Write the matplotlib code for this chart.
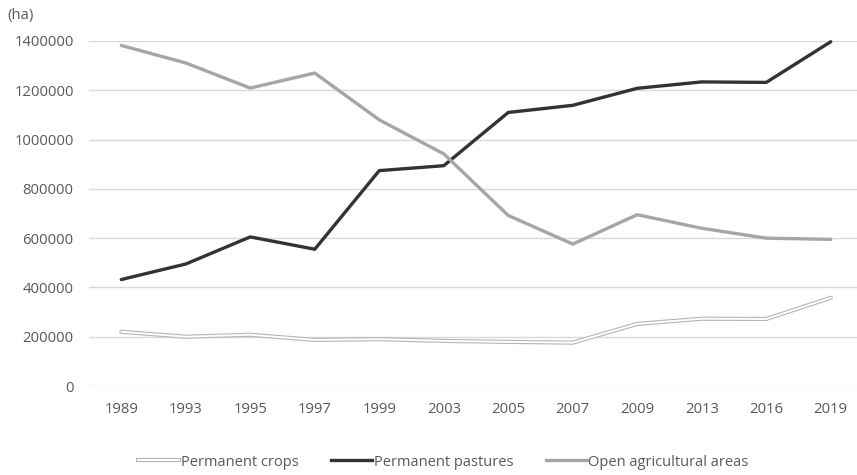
import matplotlib
matplotlib.use("Agg")
import matplotlib.pyplot as plt
from matplotlib.lines import Line2D
import matplotlib.patheffects as pe

years = ["1989", "1993", "1995", "1997", "1999", "2003", "2005", "2007", "2009", "2013", "2016", "2019"]
permanent_crops = [220000, 200000, 208000, 187000, 190000, 183000, 179000, 176000, 252000, 273000, 272000, 358000]
permanent_pastures = [432000, 495000, 605000, 555000, 874000, 894000, 1110000, 1139000, 1208000, 1234000, 1232000, 1397000]
open_agricultural = [1382000, 1311000, 1209000, 1270000, 1080000, 942000, 692000, 576000, 695000, 640000, 600000, 595000]
yticks = [0, 200000, 400000, 600000, 800000, 1000000, 1200000, 1400000]

plt.rcParams['font.family'] = ['Open Sans', 'DejaVu Sans']
FS = 10.7
TXT = '#595959'
fig = plt.figure(figsize=(8.57, 4.75), dpi=100)
ax = fig.add_axes([89/857, 1-386/475, 774/857, (386-41)/475])

x = list(range(len(years)))
c_crop_edge = '#b5b5b5'
ax.plot(x, permanent_crops, color=c_crop_edge, lw=3.0, solid_capstyle='round', clip_on=False, zorder=3)
ax.plot(x, permanent_crops, color='white', lw=1.4, solid_capstyle='round', clip_on=False, zorder=4)
ax.plot(x, permanent_pastures, color='#333333', lw=2.4, solid_capstyle='round', clip_on=False, zorder=3)
ax.plot(x, open_agricultural, color='#a6a6a6', lw=2.4, solid_capstyle='round', clip_on=False, zorder=3)

ax.set_ylim(0, 1400000)
ax.set_xlim(-0.5, 11.5)
ax.set_yticks(yticks)
ax.set_yticklabels([str(v) for v in yticks])
ax.set_xticks(x)
ax.set_xticklabels(years)
ax.tick_params(axis='both', length=0, labelsize=FS, colors=TXT)
ax.tick_params(axis='y', pad=11)
ax.tick_params(axis='x', pad=11.5)
ax.grid(axis='y', color='#d9d9d9', lw=1)
ax.set_axisbelow(True)
for s in ax.spines.values():
    s.set_visible(False)

fig.text(7/857, 1-15/475, "(ha)", fontsize=FS, color=TXT, va='center', ha='left')

h1 = Line2D([], [], color='white', lw=1.4,
            path_effects=[pe.Stroke(linewidth=3.0, foreground=c_crop_edge), pe.Normal()])
h2 = Line2D([], [], color='#333333', lw=2.4)
h3 = Line2D([], [], color='#a6a6a6', lw=2.4)
fig.legend([h1, h2, h3], ["Permanent crops", "Permanent pastures", "Open agricultural areas"],
           loc='center', bbox_to_anchor=(443.5/857, 1-462/475), ncol=3, frameon=False,
           handlelength=2.8, handletextpad=0.1, columnspacing=2.25,
           prop={'size': 10.5}, labelcolor=TXT)

fig.savefig("out.png", dpi=100)
